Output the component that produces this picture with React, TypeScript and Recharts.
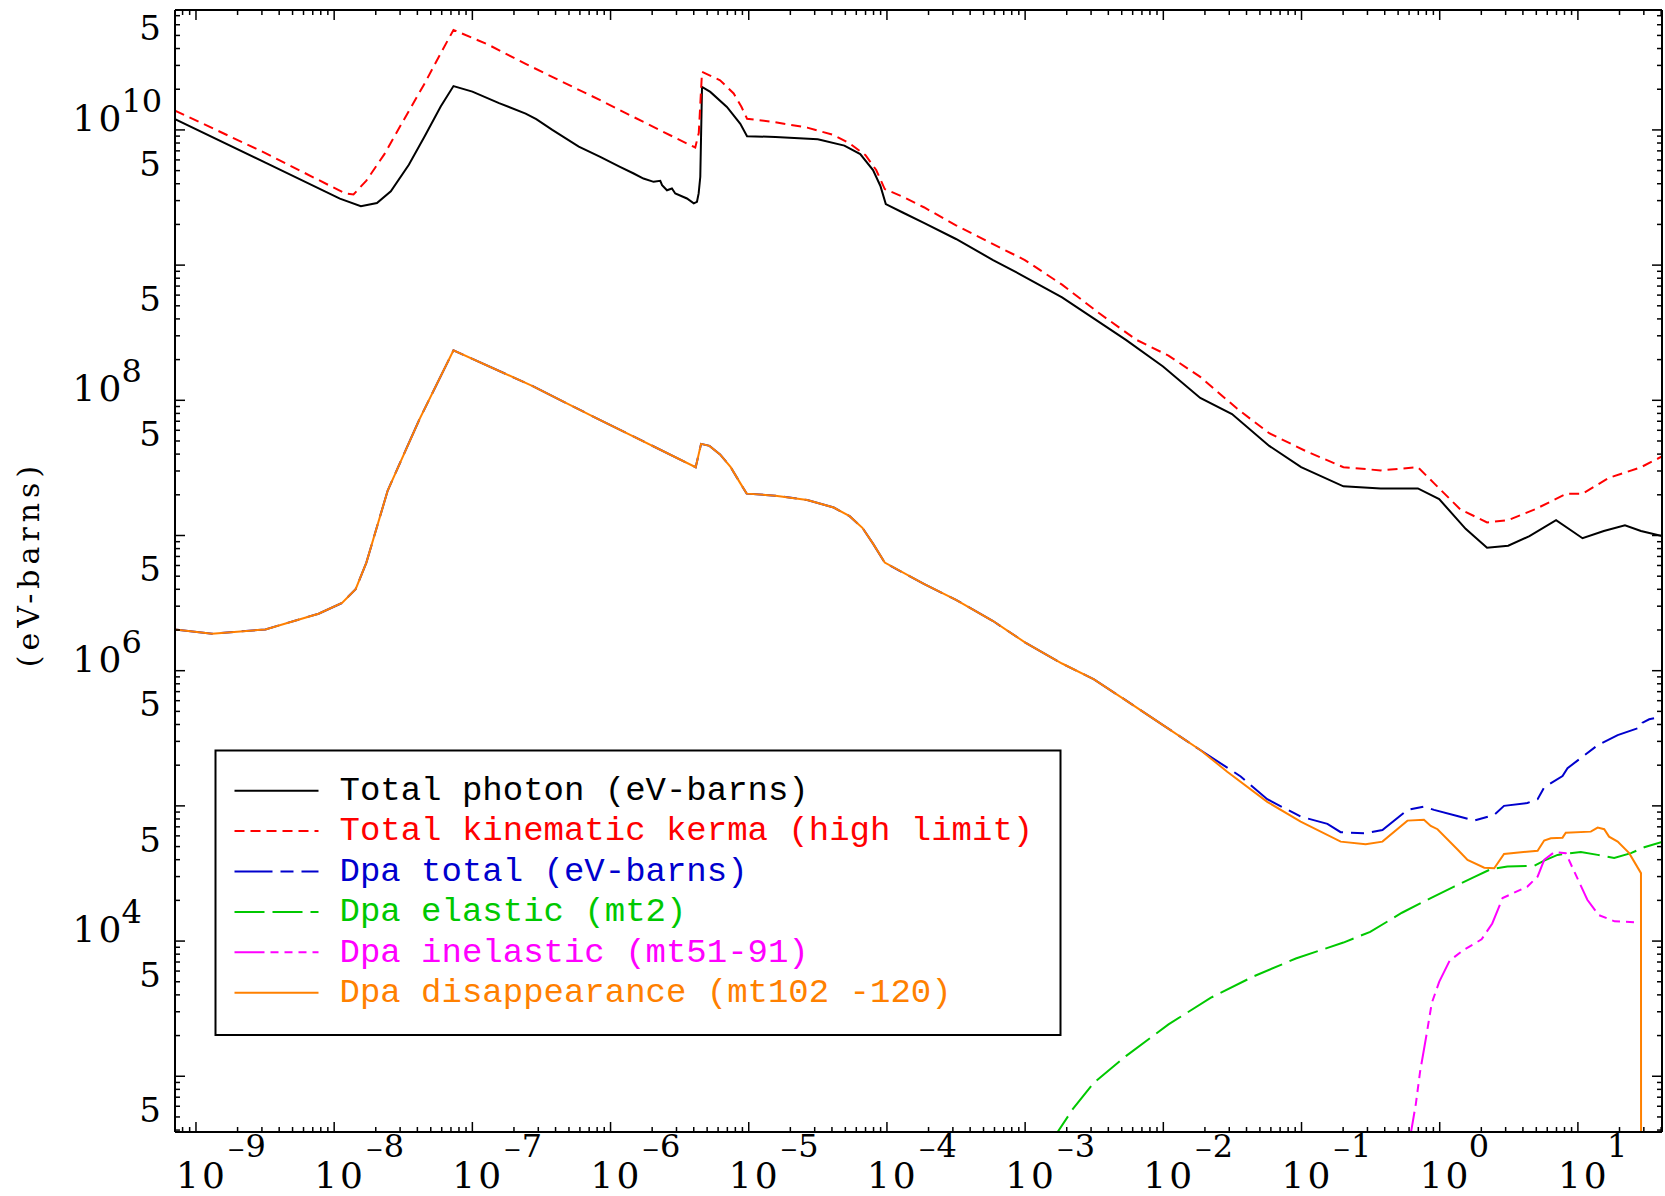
import React from 'react';
import { LineChart, Line, XAxis, YAxis } from 'recharts';

const WIDTH = 1665;
const HEIGHT = 1196;

// ---- axis ranges and tick labels ----
const X_DOMAIN: [number, number] = [7.05e-10, 40.6];
const Y_DOMAIN: [number, number] = [387, 7.71e10];

const X_DECADES = [1e-9, 1e-8, 1e-7, 1e-6, 1e-5, 1e-4, 1e-3, 1e-2, 1e-1, 1, 10];
const X_EXPONENTS = ['-9', '-8', '-7', '-6', '-5', '-4', '-3', '-2', '-1', '0', '1'];
const Y_POWER_TICKS = [1e4, 1e6, 1e8, 1e10];
const Y_POWER_EXPONENTS = ['4', '6', '8', '10'];
const Y_FIVE_TICKS = [5e2, 5e3, 5e4, 5e5, 5e6, 5e7, 5e8, 5e9, 5e10];
const MINOR_STEPS = [2, 3, 4, 5, 6, 7, 8, 9];
const Y_TITLE = '(eV-barns)';

// ---- series values: [energy, eV-barns] ----
const TOTAL_PHOTON: [number, number][] = [
  [7.05e-10, 1.2e10], [3.18e-9, 5.73e9], [1.1e-8, 3.1e9], [1.56e-8, 2.73e9], [2.04e-8, 2.88e9],
  [2.57e-8, 3.52e9], [3.47e-8, 5.53e9], [4.53e-8, 9.01e9], [5.9e-8, 1.49e10], [7.3e-8, 2.11e10],
  [1.0e-7, 1.92e10], [1.56e-7, 1.58e10], [2.43e-7, 1.32e10], [2.9e-7, 1.2e10], [3.79e-7, 1.0e10],
  [5.89e-7, 7.52e9], [8.42e-7, 6.32e9], [1.17e-6, 5.33e9], [1.47e-6, 4.76e9], [1.73e-6, 4.37e9],
  [2.05e-6, 4.13e9], [2.29e-6, 4.2e9], [2.36e-6, 3.9e9], [2.56e-6, 3.58e9], [2.78e-6, 3.69e9],
  [2.94e-6, 3.39e9], [3.57e-6, 3.11e9], [4.0e-6, 2.86e9], [4.22e-6, 2.94e9], [4.34e-6, 3.39e9],
  [4.46e-6, 4.5e9], [4.59e-6, 2.08e10], [5.27e-6, 1.91e10], [6.95e-6, 1.48e10], [8.69e-6, 1.11e10],
  [9.72e-6, 8.99e9], [1.56e-5, 8.87e9], [3.16e-5, 8.53e9], [4.92e-5, 7.66e9], [6.41e-5, 6.62e9],
  [7.93e-5, 5.05e9], [8.97e-5, 3.85e9], [9.81e-5, 2.83e9], [1.3e-4, 2.45e9], [1.85e-4, 2.05e9],
  [3.16e-4, 1.56e9], [5.86e-4, 1.09e9], [9.12e-4, 8.59e8], [1.85e-3, 5.77e8], [3.15e-3, 4.02e8],
  [5.36e-3, 2.8e8], [9.95e-3, 1.78e8], [1.85e-2, 1.04e8], [3.14e-2, 7.91e7], [5.84e-2, 4.6e7],
  [9.93e-2, 3.2e7], [0.201, 2.31e7], [0.374, 2.23e7], [0.695, 2.23e7], [0.991, 1.86e7],
  [1.54, 1.12e7], [2.2, 8.11e6], [3.13, 8.41e6], [4.46, 9.89e6], [6.95, 1.3e7],
  [9.06, 1.08e7], [10.8, 9.55e6], [15.4, 1.08e7], [21.9, 1.19e7], [28.6, 1.08e7],
  [40.6, 9.89e6],
];

const KERMA_HIGH: [number, number][] = [
  [7.05e-10, 1.39e10], [3.18e-9, 6.74e9], [1.2e-8, 3.39e9], [1.38e-8, 3.33e9], [1.71e-8, 4.22e9],
  [2.31e-8, 6.62e9], [3.18e-8, 1.18e10], [4.53e-8, 2.22e10], [5.9e-8, 3.69e10], [7.3e-8, 5.49e10],
  [1.31e-7, 4.26e10], [2.43e-7, 3.08e10], [4.52e-7, 2.26e10], [8.42e-7, 1.66e10], [1.31e-6, 1.32e10],
  [2.86e-6, 8.87e9], [4.1e-6, 7.41e9], [4.35e-6, 9.51e9], [4.59e-6, 2.69e10], [6.2e-6, 2.33e10],
  [7.78e-6, 1.86e10], [8.83e-6, 1.49e10], [9.72e-6, 1.21e10], [1.56e-5, 1.14e10], [2.65e-5, 1.04e10],
  [4.12e-5, 9.17e9], [5.37e-5, 7.94e9], [7.0e-5, 6.5e9], [8.36e-5, 5.05e9], [9.64e-5, 3.65e9],
  [1.3e-4, 3.21e9], [1.85e-4, 2.68e9], [3.16e-4, 1.97e9], [5.86e-4, 1.43e9], [9.96e-4, 1.09e9],
  [1.85e-3, 7.17e8], [3.44e-3, 4.4e8], [6.39e-3, 2.8e8], [1.09e-2, 2.14e8], [1.85e-2, 1.49e8],
  [3.43e-2, 8.65e7], [5.84e-2, 5.71e7], [0.108, 4.2e7], [0.201, 3.2e7], [0.374, 3.03e7],
  [0.695, 3.2e7], [0.908, 2.44e7], [1.41, 1.56e7], [2.2, 1.25e7], [3.13, 1.3e7],
  [4.88, 1.56e7], [8.29, 2.04e7], [10.8, 2.04e7], [16.8, 2.67e7], [28.6, 3.2e7],
  [40.6, 3.84e7],
];

const DPA_TOTAL: [number, number][] = [
  [7.05e-10, 2.02e6], [1.31e-9, 1.88e6], [3.18e-9, 2.02e6], [7.71e-9, 2.64e6], [1.14e-8, 3.17e6],
  [1.43e-8, 4.01e6], [1.71e-8, 6.3e6], [2.44e-8, 2.15e7], [4.14e-8, 7.23e7], [7.3e-8, 2.34e8],
  [2.66e-7, 1.29e8], [7.68e-7, 7.48e7], [4.13e-6, 3.2e7], [4.52e-6, 4.76e7], [5.2e-6, 4.6e7],
  [6.2e-6, 3.98e7], [7.4e-6, 3.2e7], [8.68e-6, 2.44e7], [9.66e-6, 2.04e7], [1.56e-5, 1.97e7],
  [2.65e-5, 1.83e7], [4.12e-5, 1.61e7], [5.37e-5, 1.39e7], [6.64e-5, 1.14e7], [7.93e-5, 8.71e6],
  [9.64e-5, 6.3e6], [1.85e-4, 4.38e6], [3.16e-4, 3.34e6], [5.86e-4, 2.33e6], [9.96e-4, 1.62e6],
  [1.85e-3, 1.13e6], [3.15e-3, 8.62e5], [5.85e-3, 5.69e5], [9.95e-3, 3.96e5], [1.85e-2, 2.59e5],
  [3.63e-2, 1.65e5], [5.65e-2, 1.12e5], [9.86e-2, 8.33e4], [0.154, 7.36e4], [0.192, 6.39e4],
  [0.291, 6.27e4], [0.385, 6.63e4], [0.584, 9.34e4], [0.769, 9.88e4], [0.91, 9.34e4],
  [1.34, 8.42e4], [1.77, 7.78e4], [2.48, 8.58e4], [2.92, 1.0e5], [4.31, 1.05e5],
  [5.11, 1.12e5], [5.7, 1.37e5], [7.74, 1.66e5], [8.41, 1.9e5], [13.9, 2.81e5],
  [19.4, 3.34e5], [28.6, 3.82e5], [29.4, 4.13e5], [32.8, 4.37e5], [40.6, 4.57e5],
];

const DPA_ELASTIC: [number, number][] = [
  [1.55e-3, 330], [2.21e-3, 571], [3.15e-3, 897], [5.36e-3, 1.41e3], [1.09e-2, 2.42e3],
  [2.21e-2, 3.81e3], [4.48e-2, 5.47e3], [9.09e-2, 7.43e3], [0.201, 9.75e3], [0.314, 1.17e4],
  [0.533, 1.62e4], [0.861, 2.08e4], [1.27, 2.53e4], [1.77, 2.97e4], [2.34, 3.4e4],
  [3.09, 3.56e4], [4.82, 3.6e4], [5.7, 3.94e4], [7.12, 4.34e4], [10.5, 4.56e4],
  [13.9, 4.34e4], [18.3, 4.12e4], [24.2, 4.47e4], [30.2, 4.94e4], [40.6, 5.41e4],
];

const DPA_INELASTIC: [number, number][] = [
  [0.604, 330], [0.672, 625], [0.721, 1.08e3], [0.802, 2.02e3], [0.876, 3.48e3],
  [0.991, 4.99e3], [1.18, 7.17e3], [1.49, 8.59e3], [2.01, 1.03e4], [2.4, 1.35e4],
  [2.85, 2.08e4], [4.31, 2.53e4], [5.11, 3.0e4], [5.7, 3.99e4], [6.73, 4.54e4],
  [8.17, 4.47e4], [11.7, 2.02e4], [14.1, 1.56e4], [18.4, 1.4e4], [28.6, 1.37e4],
];

const DPA_DISAPPEARANCE: [number, number][] = [
  [7.05e-10, 2.02e6], [1.31e-9, 1.88e6], [3.18e-9, 2.02e6], [7.71e-9, 2.64e6], [1.14e-8, 3.17e6],
  [1.43e-8, 4.01e6], [1.71e-8, 6.3e6], [2.44e-8, 2.15e7], [4.14e-8, 7.23e7], [7.3e-8, 2.34e8],
  [2.66e-7, 1.29e8], [7.68e-7, 7.48e7], [4.13e-6, 3.2e7], [4.52e-6, 4.76e7], [5.2e-6, 4.6e7],
  [6.2e-6, 3.98e7], [7.4e-6, 3.2e7], [8.68e-6, 2.44e7], [9.66e-6, 2.04e7], [1.56e-5, 1.97e7],
  [2.65e-5, 1.83e7], [4.12e-5, 1.61e7], [5.37e-5, 1.39e7], [6.64e-5, 1.14e7], [7.93e-5, 8.71e6],
  [9.64e-5, 6.3e6], [1.85e-4, 4.38e6], [3.16e-4, 3.34e6], [5.86e-4, 2.33e6], [9.96e-4, 1.62e6],
  [1.85e-3, 1.13e6], [3.15e-3, 8.62e5], [5.85e-3, 5.69e5], [9.95e-3, 3.96e5], [1.85e-2, 2.59e5],
  [2.9e-2, 1.79e5], [5.65e-2, 1.07e5], [9.86e-2, 7.65e4], [0.192, 5.44e4], [0.291, 5.21e4],
  [0.385, 5.44e4], [0.584, 7.78e4], [0.769, 7.88e4], [0.861, 7.11e4], [0.964, 6.72e4],
  [1.34, 4.78e4], [1.59, 3.99e4], [2.1, 3.49e4], [2.48, 3.46e4], [2.92, 4.41e4],
  [5.11, 4.66e4], [5.7, 5.54e4], [6.37, 5.76e4], [7.74, 5.82e4], [8.17, 6.34e4],
  [12.4, 6.45e4], [13.9, 6.91e4], [15.5, 6.72e4], [16.8, 5.92e4], [19.4, 5.44e4],
  [23.5, 4.47e4], [28.6, 3.18e4], [28.7, 1],
];

const SERIES = [
  { key: 'photon', name: 'Total photon (eV-barns)', points: TOTAL_PHOTON, color: '#000000', dash: undefined as string | undefined },
  { key: 'kerma', name: 'Total kinematic kerma (high limit)', points: KERMA_HIGH, color: '#ff0000', dash: '10 6' },
  { key: 'dpa', name: 'Dpa total (eV-barns)', points: DPA_TOTAL, color: '#0000cd', dash: '38 8 13 8' },
  { key: 'elastic', name: 'Dpa elastic (mt2)', points: DPA_ELASTIC, color: '#00c800', dash: '30 8' },
  { key: 'inelastic', name: 'Dpa inelastic (mt51-91)', points: DPA_INELASTIC, color: '#ff00ff', dash: '30 6 8 6 8 6 8 6' },
  { key: 'disapp', name: 'Dpa disappearance (mt102 -120)', points: DPA_DISAPPEARANCE, color: '#ff8000', dash: undefined },
];

// ---- helpers ----
const same = (a: number, b: number) => Math.abs(Math.log10(a / b)) < 1e-6;
const inRange = (v: number, d: [number, number]) => v >= d[0] * (1 - 1e-9) && v <= d[1] * (1 + 1e-9);
const isDecade = (v: number) => {
  const l = Math.log10(v);
  return Math.abs(l - Math.round(l)) < 1e-6;
};
function logTicks(d: [number, number]) {
  const out: number[] = [];
  const lo = Math.floor(Math.log10(d[0]));
  const hi = Math.ceil(Math.log10(d[1]));
  for (let k = lo; k <= hi; k++) {
    for (const m of [1, ...MINOR_STEPS]) {
      const v = m * Math.pow(10, k);
      if (inRange(v, d)) out.push(v);
    }
  }
  return out;
}
const X_TICKS = logTicks(X_DOMAIN);
const Y_TICKS = logTicks(Y_DOMAIN);

const MAJOR_LEN = 10;
const MINOR_LEN = 5;
const BASE_FONT = { fontFamily: 'DejaVu Serif', fontSize: 36, fill: '#000' };
const SUP_FONT = { fontFamily: 'DejaVu Serif', fontSize: 32, fill: '#000' };
const MINUS_FONT = { fontFamily: 'DejaVu Serif', fontSize: 22, fill: '#000' };
const FIVE_FONT = { fontFamily: 'DejaVu Serif', fontSize: 34, fill: '#000' };

const BottomTick = (p: any) => {
  const { x, y, payload } = p;
  const v = payload.value;
  const len = isDecade(v) ? MAJOR_LEN : MINOR_LEN;
  const idx = X_DECADES.findIndex((d) => same(d, v));
  const exp = idx >= 0 ? X_EXPONENTS[idx] : null;
  const neg = exp !== null && exp.startsWith('-');
  return (
    <g>
      <line x1={x} x2={x} y1={y} y2={y - len} stroke="#000" strokeWidth={1.5} />
      {exp !== null && (
        <g>
          <text x={x - 20} y={y + 56} {...BASE_FONT}>
            1<tspan dx={3}>0</tspan>
          </text>
          {neg && (
            <text x={x + 31} y={y + 25} {...MINUS_FONT}>−</text>
          )}
          <text x={neg ? x + 49.5 : x + 29} y={y + 25} {...SUP_FONT}>{exp.replace('-', '')}</text>
        </g>
      )}
    </g>
  );
};

const TopTick = (p: any) => {
  const { x, y, payload } = p;
  const len = isDecade(payload.value) ? MAJOR_LEN : MINOR_LEN;
  return <line x1={x} x2={x} y1={y} y2={y + len} stroke="#000" strokeWidth={1.5} />;
};

const LeftTick = (p: any) => {
  const { x, y, payload } = p;
  const v = payload.value;
  const len = isDecade(v) ? MAJOR_LEN : MINOR_LEN;
  const pIdx = Y_POWER_TICKS.findIndex((d) => same(d, v));
  const five = Y_FIVE_TICKS.some((d) => same(d, v));
  return (
    <g>
      <line x1={x} x2={x + len} y1={y} y2={y} stroke="#000" strokeWidth={1.5} />
      {pIdx >= 0 && (
        <g>
          <text x={x - 102.5} y={y + 1} {...BASE_FONT}>
            1<tspan dx={3}>0</tspan>
          </text>
          <text x={x - 53.5} y={y - 18} {...SUP_FONT}>{Y_POWER_EXPONENTS[pIdx]}</text>
        </g>
      )}
      {five && (
        <text x={x - 14} y={y + 5} textAnchor="end" {...FIVE_FONT}>5</text>
      )}
    </g>
  );
};

const RightTick = (p: any) => {
  const { x, y, payload } = p;
  const len = isDecade(payload.value) ? MAJOR_LEN : MINOR_LEN;
  return <line x1={x} x2={x - len} y1={y} y2={y} stroke="#000" strokeWidth={1.5} />;
};

const AXIS_LINE = { stroke: '#000', strokeWidth: 2 };

// legend layout
const LEGEND = { x: 215.5, y: 750.5, w: 845, h: 284.5, firstBaseline: 49.5, rowGap: 40.4 };

export default function App() {
  return (
    <div style={{ position: 'absolute', left: 0, top: 0, width: WIDTH, height: HEIGHT, background: '#fff' }}>
      <LineChart width={WIDTH} height={HEIGHT} margin={{ top: 9, right: 2, bottom: 0, left: 0 }}>
        <XAxis
          xAxisId="bottom"
          dataKey="e"
          type="number"
          scale="log"
          domain={X_DOMAIN}
          allowDataOverflow
          ticks={X_TICKS}
          interval={0}
          tickSize={0}
          tickMargin={0}
          tickLine={false}
          axisLine={AXIS_LINE}
          height={64}
          tick={(p: any) => <BottomTick {...p} />}
        />
        <XAxis
          xAxisId="top"
          orientation="top"
          dataKey="e"
          type="number"
          scale="log"
          domain={X_DOMAIN}
          allowDataOverflow
          ticks={X_TICKS}
          interval={0}
          tickSize={0}
          tickMargin={0}
          tickLine={false}
          axisLine={AXIS_LINE}
          height={1}
          tick={(p: any) => <TopTick {...p} />}
        />
        <YAxis
          yAxisId="left"
          type="number"
          scale="log"
          domain={Y_DOMAIN}
          allowDataOverflow
          ticks={Y_TICKS}
          interval={0}
          tickSize={0}
          tickMargin={0}
          tickLine={false}
          axisLine={AXIS_LINE}
          width={175}
          tick={(p: any) => <LeftTick {...p} />}
        />
        <YAxis
          yAxisId="right"
          orientation="right"
          type="number"
          scale="log"
          domain={Y_DOMAIN}
          allowDataOverflow
          ticks={Y_TICKS}
          interval={0}
          tickSize={0}
          tickMargin={0}
          tickLine={false}
          axisLine={AXIS_LINE}
          width={1}
          tick={(p: any) => <RightTick {...p} />}
        />
        {SERIES.map((s) => (
          <Line
            key={s.key}
            xAxisId="bottom"
            yAxisId="left"
            data={s.points.map(([e, v]) => ({ e, v }))}
            dataKey="v"
            name={s.name}
            type="linear"
            stroke={s.color}
            strokeWidth={2}
            strokeDasharray={s.dash}
            dot={false}
            activeDot={false}
            isAnimationActive={false}
          />
        ))}
      </LineChart>
      <svg
        width={WIDTH}
        height={HEIGHT}
        style={{ position: 'absolute', left: 0, top: 0, pointerEvents: 'none' }}
      >
        <text
          x={28}
          y={564}
          transform="rotate(-90 28 564)"
          textAnchor="middle"
          dominantBaseline="central"
          fontFamily="DejaVu Serif"
          fontSize={30}
          letterSpacing={5}
          fill="#000"
        >
          {Y_TITLE}
        </text>
        <g transform={`translate(${LEGEND.x},${LEGEND.y})`}>
          <rect x={0} y={0} width={LEGEND.w} height={LEGEND.h} fill="#fff" stroke="#000" strokeWidth={2} />
          {SERIES.map((s, i) => {
            const by = LEGEND.firstBaseline + i * LEGEND.rowGap;
            return (
              <g key={s.key}>
                <line x1={19} x2={103} y1={by - 9.3} y2={by - 9.3} stroke={s.color} strokeWidth={2} strokeDasharray={s.dash} />
                <text x={124} y={by} fontFamily="Liberation Mono" fontSize={34} fill={s.color}>
                  {s.name}
                </text>
              </g>
            );
          })}
        </g>
      </svg>
    </div>
  );
}
